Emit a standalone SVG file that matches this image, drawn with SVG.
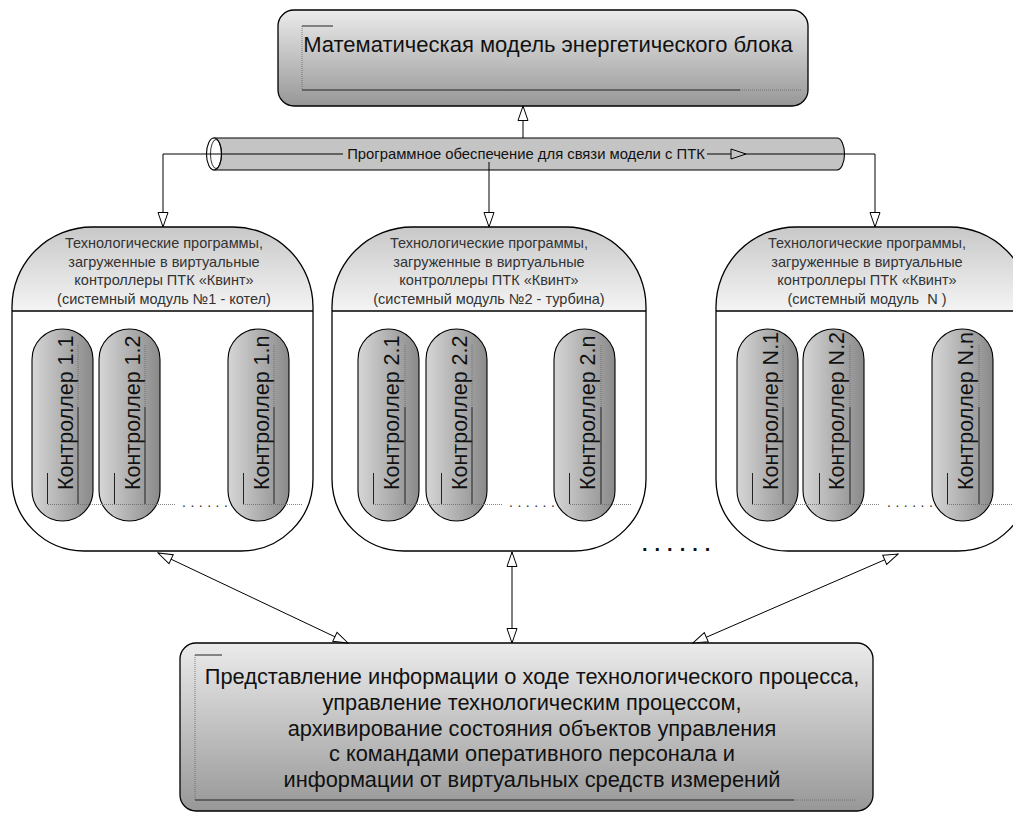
<svg xmlns="http://www.w3.org/2000/svg" width="1013" height="814" viewBox="0 0 1013 814">
<style>
text{font-family:"Liberation Sans",Arial,sans-serif;}
.ln{stroke:#000;stroke-width:1;fill:none;}
.ol{stroke:#000;stroke-width:1.3;}
.dec{stroke:#222;stroke-width:1;fill:none;}
.dot{stroke:#666;stroke-width:0.8;stroke-dasharray:1 1;fill:none;}
.hd{font-size:14.5px;fill:#333;text-anchor:middle;}
.ct{font-size:21.5px;fill:#111;}
.pill{fill:url(#gPill);stroke:#000;stroke-width:1.1;}
.big{font-size:22px;fill:#111;text-anchor:middle;}
.bt{font-size:21.8px;fill:#111;text-anchor:middle;}
.sd{font-size:14px;fill:#333;letter-spacing:4.5px;}
</style>
<defs>
<linearGradient id="gBox" x1="0" y1="0" x2="0" y2="1"><stop offset="0" stop-color="#ebebeb"/><stop offset="1" stop-color="#979797"/></linearGradient>
<linearGradient id="gHead" x1="0" y1="0" x2="0" y2="1"><stop offset="0" stop-color="#c8c8c8"/><stop offset="1" stop-color="#f4f4f4"/></linearGradient>
<linearGradient id="gPill" x1="0" y1="0" x2="1" y2="0"><stop offset="0" stop-color="#d6d6d6"/><stop offset="1" stop-color="#8a8a8a"/></linearGradient>
<marker id="ah" markerWidth="17" markerHeight="12" refX="15.5" refY="6" orient="auto-start-reverse" markerUnits="userSpaceOnUse"><path d="M1,1 L15.5,6 L1,11 Z" fill="#fff" stroke="#000" stroke-width="1"/></marker>
</defs>

<g id="top-box">
<rect x="278" y="10" width="530" height="96" rx="16" fill="url(#gBox)" class="ol"/>
<line x1="302" y1="26" x2="333" y2="26" class="dec" stroke="#555"/>
<line x1="302" y1="26" x2="302" y2="90" class="dot"/>
<line x1="302" y1="90" x2="740" y2="90" class="dec"/>
<line x1="740" y1="90" x2="801" y2="90" class="dot"/>
<text x="548" y="52" class="big">Математическая модель энергетического блока</text>
</g>

<g id="pipe">
<path d="M214,138 L837,138 A7.5,16 0 0 1 837,170 L214,170 Z" fill="#c4c4c4" stroke="#000" stroke-width="1.1"/>
<ellipse cx="214" cy="154" rx="7.5" ry="16" fill="#fff" stroke="#000" stroke-width="1.1"/>
<ellipse cx="216" cy="154" rx="5.5" ry="14.5" fill="none" stroke="#000" stroke-width="0.8"/>
<text x="526" y="159" font-size="14.8" fill="#111" text-anchor="middle">Программное обеспечение для связи модели с ПТК</text>
</g>

<g id="module-1">
<path d="M12,307 A80,80 0 0 1 92,227 L233,227 A80,80 0 0 1 313,307 L313,479 A72,72 0 0 1 241,551 L84,551 A72,72 0 0 1 12,479 Z" fill="#fff"/>
<path d="M12,311 L12,307 A80,80 0 0 1 92,227 L233,227 A80,80 0 0 1 313,307 L313,311 Z" fill="url(#gHead)"/>
<path d="M12,307 A80,80 0 0 1 92,227 L233,227 A80,80 0 0 1 313,307 L313,479 A72,72 0 0 1 241,551 L84,551 A72,72 0 0 1 12,479 Z" fill="none" class="ol"/>
<line x1="12" y1="311" x2="313" y2="311" class="ol"/>
<text class="hd"><tspan x="164" y="248">Технологические программы,</tspan><tspan x="164" y="266.7">загруженные в виртуальные</tspan><tspan x="164" y="285.3">контроллеры ПТК «Квинт»</tspan><tspan x="164" y="304">(системный модуль №1 - котел)</tspan></text>
<rect x="32" y="329" width="61" height="192" rx="30.5" class="pill"/>
<rect x="99" y="329" width="61" height="192" rx="30.5" class="pill"/>
<rect x="228" y="329" width="61" height="192" rx="30.5" class="pill"/>
<text class="ct" transform="translate(73,490) rotate(-90)">Контроллер 1.1</text>
<text class="ct" transform="translate(140,490) rotate(-90)">Контроллер 1.2</text>
<text class="ct" transform="translate(269,490) rotate(-90)">Контроллер 1.n</text>
<path d="M47.5,473 V504 M114.5,473 V504 M243.5,473 V504 M78,407 V504 M145,407 V504 M274,407 V504" class="dec"/>
<path d="M78,345 V407 M145,345 V407 M274,345 V407 M48,504.5 H176 M243,504.5 H303" class="dot"/>
<text x="182" y="507" class="sd">......</text>
</g>

<g id="module-2">
<path d="M332,307 A80,80 0 0 1 412,227 L566,227 A80,80 0 0 1 646,307 L646,479 A72,72 0 0 1 574,551 L404,551 A72,72 0 0 1 332,479 Z" fill="#fff"/>
<path d="M332,311 L332,307 A80,80 0 0 1 412,227 L566,227 A80,80 0 0 1 646,307 L646,311 Z" fill="url(#gHead)"/>
<path d="M332,307 A80,80 0 0 1 412,227 L566,227 A80,80 0 0 1 646,307 L646,479 A72,72 0 0 1 574,551 L404,551 A72,72 0 0 1 332,479 Z" fill="none" class="ol"/>
<line x1="332" y1="311" x2="646" y2="311" class="ol"/>
<text class="hd"><tspan x="489" y="248">Технологические программы,</tspan><tspan x="489" y="266.7">загруженные в виртуальные</tspan><tspan x="489" y="285.3">контроллеры ПТК «Квинт»</tspan><tspan x="489" y="304">(системный модуль №2 - турбина)</tspan></text>
<rect x="358" y="329" width="61" height="192" rx="30.5" class="pill"/>
<rect x="426" y="329" width="61" height="192" rx="30.5" class="pill"/>
<rect x="554" y="329" width="61" height="192" rx="30.5" class="pill"/>
<text class="ct" transform="translate(399,490) rotate(-90)">Контроллер 2.1</text>
<text class="ct" transform="translate(467,490) rotate(-90)">Контроллер 2.2</text>
<text class="ct" transform="translate(595,490) rotate(-90)">Контроллер 2.n</text>
<path d="M373.5,473 V504 M441.5,473 V504 M569.5,473 V504 M405,407 V504 M472,407 V504 M601,407 V504" class="dec"/>
<path d="M405,345 V407 M472,345 V407 M601,345 V407 M373,504.5 H502 M570,504.5 H632" class="dot"/>
<text x="509" y="507" class="sd">......</text>
</g>

<g id="module-n">
<path d="M716,307 A80,80 0 0 1 796,227 L950,227 A80,80 0 0 1 1030,307 L1030,479 A72,72 0 0 1 958,551 L788,551 A72,72 0 0 1 716,479 Z" fill="#fff"/>
<path d="M716,311 L716,307 A80,80 0 0 1 796,227 L950,227 A80,80 0 0 1 1030,307 L1030,311 Z" fill="url(#gHead)"/>
<path d="M716,307 A80,80 0 0 1 796,227 L950,227 A80,80 0 0 1 1030,307 L1030,479 A72,72 0 0 1 958,551 L788,551 A72,72 0 0 1 716,479 Z" fill="none" class="ol"/>
<line x1="716" y1="311" x2="1030" y2="311" class="ol"/>
<text class="hd"><tspan x="867" y="248">Технологические программы,</tspan><tspan x="867" y="266.7">загруженные в виртуальные</tspan><tspan x="867" y="285.3">контроллеры ПТК «Квинт»</tspan><tspan x="867" y="304" style="white-space:pre">(системный модуль  N )</tspan></text>
<rect x="737" y="329" width="61" height="192" rx="30.5" class="pill"/>
<rect x="803" y="329" width="61" height="192" rx="30.5" class="pill"/>
<rect x="932" y="329" width="61" height="192" rx="30.5" class="pill"/>
<text class="ct" transform="translate(778,490) rotate(-90)">Контроллер N.1</text>
<text class="ct" transform="translate(844,490) rotate(-90)">Контроллер N.2</text>
<text class="ct" transform="translate(973,490) rotate(-90)">Контроллер N.n</text>
<path d="M752.5,473 V504 M819.5,473 V504 M947.5,473 V504 M783,407 V504 M850,407 V504 M979,407 V504" class="dec"/>
<path d="M783,345 V407 M850,345 V407 M979,345 V407 M752,504.5 H880 M947,504.5 H1012" class="dot"/>
<text x="887" y="507" class="sd">......</text>
</g>

<g id="between-dots">
<text x="642" y="551" font-size="20" font-weight="bold" fill="#111" letter-spacing="7">......</text>
</g>

<g id="bottom-box">
<rect x="180" y="643" width="693" height="168" rx="16" fill="url(#gBox)" class="ol"/>
<line x1="195" y1="655" x2="222" y2="655" class="dec" stroke="#555"/>
<line x1="195" y1="655" x2="195" y2="800" class="dot"/>
<line x1="195" y1="800" x2="794" y2="800" class="dec"/>
<line x1="794" y1="800" x2="856" y2="800" class="dot"/>
<text class="bt"><tspan x="532" y="684">Представление информации о ходе технологического процесса,</tspan><tspan x="532" y="710">управление технологическим процессом,</tspan><tspan x="532" y="736">архивирование состояния объектов управления</tspan><tspan x="532" y="761">с командами оперативного персонала и</tspan><tspan x="532" y="787">информации от виртуальных средств измерений</tspan></text>
</g>

<g id="connectors">
<path d="M523,138 L523,106" class="ln" marker-end="url(#ah)"/>
<path d="M343,154 L163,154 L163,227" class="ln" marker-end="url(#ah)"/>
<path d="M489,162 L489,227" class="ln" marker-end="url(#ah)"/>
<path d="M707,154 L875,154 L875,227" class="ln" marker-end="url(#ah)"/>
<path d="M731,149 L746,154 L731,159 Z" fill="#c4c4c4" stroke="#000" stroke-width="1"/>
<path d="M158,553 L348,643" class="ln" marker-start="url(#ah)" marker-end="url(#ah)"/>
<path d="M512,552 L512,643" class="ln" marker-start="url(#ah)" marker-end="url(#ah)"/>
<path d="M898,554 L693,643" class="ln" marker-start="url(#ah)" marker-end="url(#ah)"/>
</g>
</svg>
